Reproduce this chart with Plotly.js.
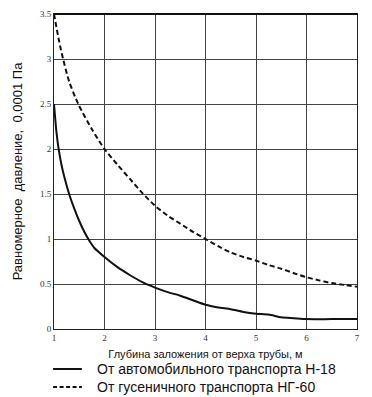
<!DOCTYPE html>
<html><head><meta charset="utf-8">
<script src="https://cdn.plot.ly/plotly-3.0.1.min.js"></script>
<style>html,body{margin:0;padding:0;background:#fff}</style>
</head><body><div id="chart" style="width:372px;height:397px"></div>
<script>
const depthH18 = [1.0, 1.05, 1.1, 1.15, 1.2, 1.3, 1.4, 1.5, 1.6, 1.7, 1.8, 2.0, 2.25, 2.5, 2.75, 3.0, 3.25, 3.5, 3.75, 4.0, 4.25, 4.5, 4.75, 5.0, 5.25, 5.5, 5.75, 6.0, 6.5, 7.0];
const pressureH18 = [2.5, 2.18, 1.97, 1.82, 1.7, 1.5, 1.34, 1.2, 1.08, 0.98, 0.9, 0.8, 0.69, 0.6, 0.52, 0.46, 0.41, 0.37, 0.32, 0.27, 0.24, 0.22, 0.19, 0.17, 0.16, 0.13, 0.12, 0.11, 0.11, 0.11];
const depthNG60 = [1.0, 1.1, 1.18, 1.3, 1.48, 1.75, 2.0, 2.25, 2.5, 2.75, 3.0, 3.25, 3.5, 3.75, 4.0, 4.25, 4.5, 4.75, 5.0, 5.25, 5.5, 5.75, 6.0, 6.25, 6.5, 6.75, 7.0];
const pressureNG60 = [3.5, 3.2, 3.0, 2.75, 2.5, 2.22, 2.0, 1.83, 1.67, 1.51, 1.37, 1.26, 1.17, 1.08, 1.0, 0.92, 0.85, 0.8, 0.76, 0.71, 0.67, 0.62, 0.575, 0.54, 0.51, 0.49, 0.47];
const seriesNames = ["От автомобильного транспорта Н-18", "От гусеничного транспорта НГ-60"];
const xTicks = [1, 2, 3, 4, 5, 6, 7];
const yTicks = [0, 0.5, 1, 1.5, 2, 2.5, 3, 3.5];
const xTitle = "Глубина заложения от верха трубы, м";
const yTitle = "Равномерное  давление,  0,0001 Па";

const dashes = ["solid", "5px,3px"];
const traces = [
  {x: depthH18, y: pressureH18, name: seriesNames[0], mode: "lines",
   line: {color: "#111", width: 2, dash: dashes[0], shape: "spline", smoothing: 0.7}},
  {x: depthNG60, y: pressureNG60, name: seriesNames[1], mode: "lines",
   line: {color: "#111", width: 2, dash: dashes[1], shape: "spline", smoothing: 0.7}}
];
const axisCommon = {showline: true, linecolor: "#222", linewidth: 1, mirror: true,
  showgrid: true, gridcolor: "#444", gridwidth: 1, zeroline: false, ticks: "",
  tickfont: {family: "Liberation Serif, Times New Roman, serif", size: 9, color: "#333"}};

// legend drawn with shapes + annotations so it does not shrink the plot
const legendY = [-0.127, -0.184];
const legendDash = ["solid", "4px,2.5px"];
const shapes = [{type: "line", xref: "paper", yref: "paper", x0: 0, x1: 1, y0: 1, y1: 1,
  line: {color: "#111", width: 2}}];
const annotations = [];
seriesNames.forEach((name, i) => {
  shapes.push({type: "line", xref: "paper", yref: "paper", x0: -0.003, x1: 0.092,
    y0: legendY[i], y1: legendY[i], line: {color: "#111", width: 2, dash: legendDash[i]}});
  annotations.push({xref: "paper", yref: "paper", x: 0.135, y: legendY[i], xanchor: "left",
    yanchor: "middle", showarrow: false, text: name,
    font: {family: "Liberation Sans, Arial, sans-serif", size: 14, color: "#111"}});
});

const layout = {
  width: 372, height: 397,
  margin: {l: 54, r: 15, t: 14, b: 68},
  paper_bgcolor: "#fff", plot_bgcolor: "#fff",
  showlegend: false,
  xaxis: Object.assign({}, axisCommon, {range: [1, 7], tickvals: xTicks,
    title: {text: xTitle, font: {family: "Liberation Sans, Arial, sans-serif", size: 11, color: "#111"}, standoff: 8}}),
  yaxis: Object.assign({}, axisCommon, {range: [0, 3.5], tickvals: yTicks, ticktext: yTicks.map(String),
    title: {text: yTitle, font: {family: "Liberation Sans, Arial, sans-serif", size: 13, color: "#111"}, standoff: 14}}),
  shapes: shapes,
  annotations: annotations
};
Plotly.newPlot("chart", traces, layout, {displayModeBar: false, staticPlot: true});
</script></body></html>
